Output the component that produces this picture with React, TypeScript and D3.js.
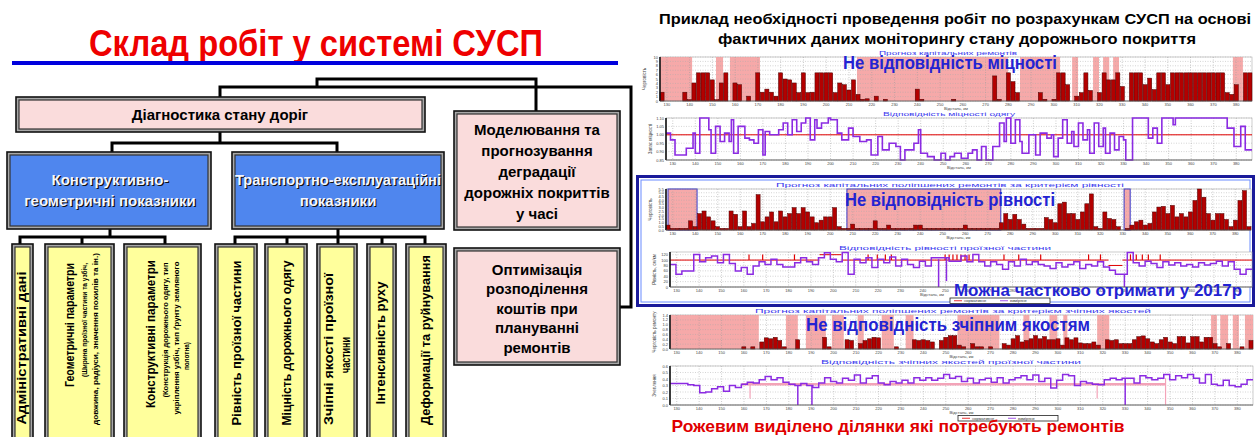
import React from "react";
import * as d3 from "d3";

const FONT = "'Liberation Sans', Arial, Helvetica, sans-serif";
const NARROW = "'Liberation Sans Narrow', 'Arial Narrow', 'Liberation Sans', Arial, sans-serif";

// km axis shared by all right-hand charts
const KM_DOMAIN: [number, number] = [127, 387];
const KM_TICKS = d3.range(130, 390, 10);

// --- strength (міцність), 2 km bins ---
const strengthBars = [
  2.0, 0, 0, 0, 0, 2.0, 0.3, 4.1, 6.4, 6.4,
  6.4, 4.8, 0.3, 4.1, 6.4, 0, 4.1, 3.7, 0, 1.1,
  0, 6.4, 2.0, 2.7, 2.0, 1.1, 6.4, 5.0, 4.8, 4.1,
  1.9, 6.4, 1.9, 2.0, 6.4, 6.4, 6.4, 6.4, 1.9, 4.1,
  3.7, 2.5, 4.8, 1.5, 0.4, 0.5, 0, 1.1, 0, 0.4,
  0, 0, 0, 0, 0, 0, 2.7, 0.4, 0, 0,
  0, 0, 0, 0, 0.4, 0, 0, 0, 0, 0,
  0, 0, 0, 5.7, 0.4, 0, 6.4, 4.4, 1.9, 0,
  0, 0, 0, 1.9, 0.4, 0, 0.4, 6.4, 6.4, 3.7,
  0, 1.1, 1.9, 6.4, 2.4, 0, 1.9, 6.4, 4.8, 4.8,
  6.4, 3.3, 0, 6.4, 6.4, 6.4, 3.7, 5.2, 2.6, 6.4,
  6.4, 3.7, 6.4, 6.4, 6.4, 6.4, 6.4, 6.4, 6.4, 6.4,
  6.4, 6.4, 6.4, 6.4, 1.9, 1.5, 3.7, 0, 6.4, 6.4,
];
const strengthPink: [number, number][] = [
  [127, 141.1], [151.6, 154.7], [157.7, 170.9], [213.5, 279.8], [285.1, 302.7],
  [308, 310.6], [317.2, 319.8], [321.6, 324.3], [326, 328.6], [378.6, 383],
];
const strengthLineKm = [
  127, 129, 131, 136, 139, 140, 142, 146, 147, 149,
  151, 153, 155, 156, 157, 159, 162, 164, 166, 168,
  170, 171, 173, 177, 179, 181, 183, 185, 187, 189,
  191, 193, 194, 196, 199, 200, 203, 205, 208, 210,
  213, 216, 218, 221, 223, 226, 229, 231, 233, 237,
  239, 240, 243, 246, 249, 251, 253, 255, 258, 261,
  263, 265, 267, 269, 272, 275, 277, 278, 280, 282,
  284, 285, 288, 291, 293, 296, 298, 299, 301, 303,
  305, 307, 308, 310, 312, 314, 315, 317, 319, 321,
  322, 324, 326, 328, 330, 331, 334, 341, 343, 345,
  347, 352, 353, 376, 379, 382, 384,
];
const strengthLineVal = [
  1.01, 0.97, 0.88, 0.92, 1.01, 0.89, 1.1, 1.03, 0.89, 1.05,
  0.96, 1.01, 0.96, 1.09, 0.89, 1.05, 0.98, 0.97, 0.95, 1.03,
  0.88, 1.02, 1.0, 1.03, 1.07, 1.0, 1.09, 1.02, 1.07, 1.1,
  0.97, 1.09, 1.04, 1.07, 1.1, 1.09, 1.01, 0.97, 1.04, 0.99,
  0.96, 0.97, 0.88, 0.99, 0.91, 0.95, 0.93, 0.85, 0.91, 0.95,
  1.03, 0.89, 0.87, 0.85, 0.89, 0.85, 0.87, 0.89, 0.86, 0.89,
  0.91, 0.85, 0.93, 0.85, 0.93, 1.07, 0.96, 1.1, 0.95, 1.09,
  0.96, 0.89, 1.0, 0.88, 1.01, 0.98, 1.0, 0.87, 0.98, 1.09,
  0.95, 1.02, 0.93, 1.07, 0.97, 1.03, 0.89, 1.07, 0.93, 1.04,
  0.89, 1.01, 0.91, 0.99, 0.97, 0.85, 1.1, 0.98, 1.04, 0.95,
  1.1, 1.06, 1.1, 1.04, 0.93, 1.05, 0.91,
];
const STRENGTH_NORM = 1.0;

// --- evenness (рівність) ---
const evenBars = [
  0.66, 0.22, 0.22, 0.22, 0.22, 1.23, 0.44, 2.2, 2.55, 1.76,
  1.23, 0.44, 0.22, 0.22, 2.55, 2.1, 0.44, 2.55, 0.44, 0.88,
  4.75, 1.1, 1.76, 2.42, 1.1, 2.55, 1.76, 2.2, 3.0, 2.2,
  3.0, 2.42, 1.76, 0.97, 1.32, 1.76, 1.76, 3.0, 0.44, 0.22,
  0.22, 0.79, 0.22, 0.22, 0.22, 0.22, 1.23, 0.22, 0.22, 0.66,
  0.22, 0.22, 0.22, 0.22, 0.22, 0.66, 0.66, 0.22, 0.22, 0.22,
  0.22, 0.22, 0.22, 0.22, 0.22, 0.22, 0.66, 0.22, 0.22, 0.22,
  0.22, 0.22, 0.22, 0.22, 0.97, 2.2, 1.41, 2.1, 1.41, 0.79,
  0.22, 0.22, 0.22, 0.22, 1.67, 1.41, 0.97, 3.52, 3.74, 2.2,
  2.2, 1.41, 2.42, 3.52, 4.84, 0.44, 0.22, 2.42, 1.54, 1.41,
  0.44, 0, 0.22, 0.66, 1.1, 1.32, 0.66, 0.88, 2.42, 3.08,
  3.17, 2.2, 3.3, 1.76, 2.2, 1.76, 2.42, 3.96, 5.5, 4.4,
  2.2, 1.32, 2.2, 2.2, 1.41, 0.44, 1.32, 3.96, 5.28, 0.44,
];
const evenPink: [number, number][] = [[127.9, 140.8], [207.4, 275.8], [330.6, 333.3]];
const evenLine = [
  84, 47, 59, 59, 121, 94, 109, 115, 90, 121,
  87, 59, 72, 47, 78, 94, 84, 103, 84, 74,
  74, 90, 109, 94, 84, 109, 127, 103, 94, 128,
  47, 103, 90, 109, 72, 103, 90, 111, 78, 103,
  84, 72, 96, 78, 109, 109, 109, 96, 96, 115,
  94, 121, 94, 78, 94, 84, 66, 94, 78, 103,
  84, 94, 84, 78, 69, 90, 74, 84, 94, 69,
  84, 78, 94, 74, 62, 47, 47, 128, 90, 78,
  96, 87, 72, 94, 82, 90, 78, 84, 74, 90,
  82, 87, 96, 78, 94, 66, 47, 66,
];
const evenDrops: [number, number, number][] = [[247, 103, 0], [250.5, 109, 22], [330, 47, 0]];
const evenNorm: [number, number, number][] = [
  [127, 193.8, 100], [193.8, 203.6, 120], [203.6, 322.9, 100], [322.9, 329.1, 80], [329.1, 387, 100],
];
const evenSpikes = [
  162.3, 168.4, 182.6, 215.5, 219.6, 223.2, 225.9, 249.9, 251.7, 253.4, 255.2, 257,
  258.8, 260.6, 276.2, 282.8, 292.6, 314, 319.3, 332.7, 335.3, 338, 340.7, 346,
];

// --- grip (зчіпні якості) ---
const gripBars = [
  0, 0, 0, 0, 0, 0, 0, 0, 0, 0,
  0, 0, 0, 0, 0, 0, 0.09, 0, 0.09, 0,
  0.29, 0.46, 0.42, 0.48, 0.35, 0.09, 0, 0, 0.38, 0,
  0, 0, 0, 0, 0.48, 0.09, 0, 0, 0, 0.38,
  0.35, 0, 0.22, 0.35, 0.42, 0.48, 0.46, 0, 0, 0,
  0.09, 0, 0, 0, 0.38, 0.35, 0.38, 0.35, 0.29, 0,
  0.35, 0.48, 0.55, 0.55, 0.16, 0.09, 0, 0.22, 0.09, 0.09,
  0, 0.09, 0, 0, 0.22, 0.16, 0.42, 0.55, 0.29, 0.35,
  0.42, 0.55, 0.42, 0.51, 0.38, 0.38, 0.42, 0.16, 0.46, 0.38,
  0.46, 0.25, 0.22, 0.22, 0.29, 0.16, 0, 0.38, 0.35, 0.38,
  0.22, 0.22, 0.22, 0.38, 0.51, 0.54, 0.42, 0.29, 0.22, 0.38,
  0.48, 0.29, 0.22, 0.51, 0.51, 0.25, 0.51, 0.51, 0.29, 0.48,
  0.48, 0.22, 0.09, 0, 0.22, 0, 0, 0.09, 0, 0.35,
];
const gripPink: [number, number][] = [
  [127.1, 166.6], [178.7, 184], [187.6, 196.5], [199.2, 204.5], [210.7, 213.4], [221.4, 226.8],
  [232.1, 235.6], [255.2, 273.9], [284.6, 287.3], [296.2, 299.7], [302.4, 304.2], [317.5, 322.9],
  [368.3, 370.9], [372.4, 375.9], [378, 380.7], [383.4, 387],
];
const gripLine = [
  0.33, 0.33, 0.33, 0.31, 0.3, 0.19, 0.2, 0.25, 0.28, 0.21,
  0.3, 0.27, 0.32, 0.35, 0.34, 0.39, 0.44, 0.39, 0.42, 0.35,
  0.32, 0.3, 0.33, 0.3, 0.27, 0.34, 0.42, 0.36, 0.34, 0.41,
  0.38, 0.46, 0.34, 0.41, 0.45, 0.34, 0.31, 0.36, 0.34, 0.38,
  0.34, 0.42, 0.38, 0.42, 0.38, 0.41, 0.47, 0.41, 0.44, 0.36,
  0.41, 0.34, 0.39, 0.41, 0.35, 0.42, 0.34, 0.39, 0.42, 0.45,
  0.39, 0.46, 0.36, 0.41, 0.26, 0.38, 0.47, 0.45, 0.3, 0.36,
  0.34, 0.32, 0.31, 0.39, 0.41, 0.39, 0.41, 0.41, 0.34, 0.45,
  0.42, 0.39, 0.41, 0.47, 0.39, 0.45, 0.42, 0.47, 0.41, 0.34,
  0.47, 0.32, 0.3, 0.38, 0.3, 0.28, 0.32, 0.39,
];
const gripDrops: [number, number, number][] = [[184, 0.3, 0], [190.3, 0.3, 0], [330, 0.41, 0]];
const gripNormDrops: [number, number, number][] = [[162.7, 0.35, 0.1], [317.5, 0.32, 0.1], [348, 0.41, 0]];
const GRIP_NORM: [number, number, number] = [159, 348, 0.32];

// --- left-hand diagram texts ---
const yellowBoxes = [
  [12, 33], [45, 114], [124, 201], [215, 257], [265, 307], [317, 357], [367, 396], [406, 446],
];
const verticalTexts: { x: number; cy: number; t: string; size: number; len: number }[] = [
  { x: 22, cy: 348, t: "Адміністративні  дані", size: 12.5, len: 153 },
  { x: 70, cy: 325, t: "Геометричні  параметри", size: 12.5, len: 124 },
  { x: 84, cy: 320, t: "(Ширина проїзної частини та узбіч,", size: 6.5, len: 114 },
  { x: 95, cy: 339, t: "довжина, радіуси,     значення похилів та ін.)", size: 6.5, len: 172 },
  { x: 151, cy: 334, t: "Конструктивні  параметри", size: 12.5, len: 148 },
  { x: 165, cy: 330, t: "(Конструкція дорожнього одягу, тип", size: 6.5, len: 135 },
  { x: 176, cy: 338, t: "укріплення узбіч, тип ґрунту земляного", size: 6.5, len: 153 },
  { x: 186, cy: 356, t: "полотна)", size: 6.5, len: 28 },
  { x: 237, cy: 343, t: "Рівність  проїзної частини", size: 12.5, len: 165 },
  { x: 287, cy: 343, t: "Міцність дорожнього одягу", size: 12.5, len: 165 },
  { x: 329, cy: 349, t: "Зчіпні якості проїзної", size: 12.5, len: 152 },
  { x: 346, cy: 355, t: "частини", size: 12.5, len: 36 },
  { x: 381, cy: 343, t: "Інтенсивність  руху", size: 12.5, len: 123 },
  { x: 426, cy: 340, t: "Деформації  та руйнування", size: 12.5, len: 170 },
];
const modelLines = ["Моделювання та", "прогнозування", "деградації", "дорожніх покриттів", "у часі"];
const optimLines = ["Оптимізація", "розподілення", "коштів при", "плануванні", "ремонтів"];

type Scale = d3.ScaleLinear<number, number>;
type BoxT = { x0: number; x1: number; y0: number; y1: number };

function Panel({
  box, yDomain, yTicks, yFmt, title, titleX, titleLen, yTitle, xTitle = "Відстань, км", xTitleX, under, over,
}: {
  box: BoxT; yDomain: [number, number]; yTicks: number[]; yFmt: (v: number) => string;
  title: string; titleX: number; titleLen: number; yTitle: string; xTitle?: string; xTitleX?: number;
  under?: (x: Scale, y: Scale) => React.ReactNode; over: (x: Scale, y: Scale) => React.ReactNode;
}) {
  const x = d3.scaleLinear().domain(KM_DOMAIN).range([box.x0, box.x1]);
  const y = d3.scaleLinear().domain(yDomain).range([box.y1, box.y0]);
  return (
    <g fontFamily={FONT}>
      <text x={titleX} y={box.y0 - 2} textAnchor="middle" fontSize={6} fill="#3a3aee"
        textLength={titleLen} lengthAdjust="spacingAndGlyphs">{title}</text>
      <rect x={box.x0} y={box.y0} width={box.x1 - box.x0} height={box.y1 - box.y0} fill="#fff" stroke="#aaa" strokeWidth={0.6} />
      {under && under(x, y)}
      {KM_TICKS.map((t) => (
        <line key={"gx" + t} x1={x(t)} x2={x(t)} y1={box.y0} y2={box.y1} stroke="#999" strokeWidth={0.5} strokeDasharray="1 1.5" />
      ))}
      {yTicks.map((t) => (
        <line key={"gy" + t} x1={box.x0} x2={box.x1} y1={y(t)} y2={y(t)} stroke="#aaa" strokeWidth={0.5} strokeDasharray="1 1.5" />
      ))}
      {over(x, y)}
      <line x1={box.x0} x2={box.x0} y1={box.y0} y2={box.y1} stroke="#111" strokeWidth={1.6} />
      <line x1={box.x0} x2={box.x1} y1={box.y1} y2={box.y1} stroke="#555" strokeWidth={0.8} />
      {yTicks.map((t) => (
        <text key={"ty" + t} x={box.x0 - 2} y={y(t) + 1.5} textAnchor="end" fontSize={4} fill="#444">{yFmt(t)}</text>
      ))}
      {KM_TICKS.map((t) => (
        <text key={"tx" + t} x={x(t)} y={box.y1 + 4.5} textAnchor="middle" fontSize={4} fill="#444">{t}</text>
      ))}
      <text x={xTitleX ?? (box.x0 + box.x1) / 2} y={box.y1 + 8.5} textAnchor="middle" fontSize={4.2} fill="#444">{xTitle}</text>
      <text transform={`translate(${box.x0 - 14},${(box.y0 + box.y1) / 2}) rotate(-90)`} textAnchor="middle" fontSize={4.5} fill="#444">{yTitle}</text>
    </g>
  );
}

function Bars({ x, y, values }: { x: Scale; y: Scale; values: number[] }) {
  const band = d3.scaleBand<number>().domain(d3.range(values.length)).range(x.range() as [number, number]).paddingInner(0.1);
  return (
    <g>
      {values.map((v, i) =>
        v > 0 ? (
          <rect key={i} x={band(i)} y={y(v)} width={band.bandwidth()} height={y(0) - y(v)}
            fill="#b30000" stroke="#4a0000" strokeWidth={0.5} />
        ) : null
      )}
    </g>
  );
}

function PinkZones({ x, y, zones, stroke }: { x: Scale; y: Scale; zones: [number, number][]; stroke?: string }) {
  const [lo, hi] = y.domain();
  return (
    <g>
      {zones.map(([a, b], i) => (
        <rect key={i} x={x(a)} y={y(hi)} width={x(b) - x(a)} height={y(lo) - y(hi)} fill="#f6a9a9"
          stroke={stroke || "none"} strokeWidth={1} />
      ))}
    </g>
  );
}

function sampleLine(x: Scale, y: Scale, vals: number[]) {
  const idx = d3.scaleLinear().domain([0, vals.length]).range(x.range());
  const pts: [number, number][] = vals.map((v, i) => [idx(i), y(v)]);
  pts.push([idx(vals.length), y(vals[vals.length - 1])]);
  return d3.line().curve(d3.curveStepAfter)(pts) || "";
}

function Legend({ x, y }: { x: number; y: number }) {
  return (
    <g fontFamily={FONT}>
      <rect x={x} y={y} width={100} height={5.5} fill="#fff" stroke="#222" strokeWidth={0.8} />
      <line x1={x + 4} x2={x + 12} y1={y + 2.75} y2={y + 2.75} stroke="#e00000" strokeWidth={0.8} />
      <text x={x + 14} y={y + 4.3} fontSize={4} fill="#333">нормативне</text>
      <line x1={x + 50} x2={x + 58} y1={y + 2.75} y2={y + 2.75} stroke="#8b2be2" strokeWidth={0.8} />
      <text x={x + 60} y={y + 4.3} fontSize={4} fill="#333">виміряне</text>
    </g>
  );
}

function DBox({ x, y, w, h, fill }: { x: number; y: number; w: number; h: number; fill: string }) {
  return (
    <g>
      <rect x={x} y={y} width={w} height={h} fill="#a8a8a8" stroke="#111" strokeWidth={1.6} />
      <rect x={x + 3} y={y + 3} width={w - 6} height={h - 6} fill={fill} stroke="#333" strokeWidth={1.2} />
    </g>
  );
}

function ShadowText({ x, y, children, len }: { x: number; y: number; children: string; len?: number }) {
  const common = { textAnchor: "middle" as const, fontSize: 15, fontWeight: "bold" as const, fontFamily: FONT };
  const extra = len ? { textLength: len, lengthAdjust: "spacingAndGlyphs" as const } : {};
  return (
    <g>
      <text x={x + 1.2} y={y + 1.2} fill="#111" {...common} {...extra}>{children}</text>
      <text x={x} y={y} fill="#f4f6ff" {...common} {...extra}>{children}</text>
    </g>
  );
}

export default function App() {
  const wire = { fill: "none", stroke: "#000", strokeWidth: 3 };
  const c1: BoxT = { x0: 660, x1: 1252, y0: 57, y1: 101 };
  const c2: BoxT = { x0: 666, x1: 1252, y0: 118, y1: 160 };
  const c3: BoxT = { x0: 666, x1: 1251, y0: 189, y1: 230 };
  const c4: BoxT = { x0: 670, x1: 1252, y0: 252, y1: 287 };
  const c5: BoxT = { x0: 670, x1: 1253, y0: 315, y1: 349 };
  const c6: BoxT = { x0: 670, x1: 1253, y0: 366, y1: 405 };
  const blue = "#2323d2";

  return (
    <div style={{ position: "fixed", left: 0, top: 0 }}>
      <svg width={1255} height={437} style={{ display: "block", background: "#fff" }}>
        {/* left title */}
        <text x={316} y={56} textAnchor="middle" fontSize={36} fontWeight="bold" fill="#ee0000" fontFamily={NARROW}
          textLength={454} lengthAdjust="spacingAndGlyphs">Склад робіт у системі СУСП</text>
        <rect x={12} y={61} width={606} height={4} fill="#0000dd" />

        {/* connectors */}
        <path d="M220,97 V87 H631 V307 H620" {...wire} />
        <path d="M317,87 V79 H536 V111" {...wire} />
        <path d="M220,132 V143 M112,152 V143 H337 V152" {...wire} />
        <path d="M110,229 V237 M20,244 V237 H165 V244 M82,237 V244" {...wire} />
        <path d="M338,229 V237 M235,244 V237 H425 V244 M287,237 V244 M338,237 V244 M382,237 V244" {...wire} />

        {/* boxes */}
        <DBox x={16} y={97} w={409} h={35} fill="#fadcdc" />
        <text x={220} y={120} textAnchor="middle" fontSize={15} fontWeight="bold" fontFamily={FONT}>Діагностика стану доріг</text>

        <DBox x={7} y={152} w={204} h={77} fill="#4f86ee" />
        <DBox x={232} y={152} w={212} h={77} fill="#4f86ee" />
        <ShadowText x={110} y={185}>Конструктивно-</ShadowText>
        <ShadowText x={110} y={206}>геометричні показники</ShadowText>
        <ShadowText x={338} y={185} len={206}>Транспортно-експлуатаційні</ShadowText>
        <ShadowText x={338} y={206}>показники</ShadowText>

        {yellowBoxes.map(([a, b], i) => (
          <DBox key={i} x={a} y={244} w={b - a} h={210} fill="#ffff9c" />
        ))}
        {verticalTexts.map((d, i) => (
          <text key={i} transform={`translate(${d.x},${d.cy}) rotate(-90)`} textAnchor="middle" dominantBaseline="central"
            fontSize={d.size} fontWeight="bold" fontFamily={FONT} textLength={d.len} lengthAdjust="spacingAndGlyphs">{d.t}</text>
        ))}

        <DBox x={454} y={111} w={166} h={119} fill="#fadcdc" />
        {modelLines.map((t, i) => (
          <text key={t} x={537} y={129 + i * 21} textAnchor="middle" dominantBaseline="central" fontSize={15}
            fontWeight="bold" fontFamily={FONT}>{t}</text>
        ))}
        <DBox x={454} y={248} w={166} h={117} fill="#fadcdc" />
        {optimLines.map((t, i) => (
          <text key={t} x={537} y={269 + i * 19.5} textAnchor="middle" dominantBaseline="central" fontSize={15}
            fontWeight="bold" fontFamily={FONT}>{t}</text>
        ))}

        {/* right title */}
        <text x={955} y={24} textAnchor="middle" fontSize={15.5} fontWeight="bold" fontFamily={FONT}
          textLength={592} lengthAdjust="spacingAndGlyphs">Приклад необхідності проведення робіт по розрахункам СУСП на основі</text>
        <text x={957} y={44} textAnchor="middle" fontSize={15.5} fontWeight="bold" fontFamily={FONT}
          textLength={478} lengthAdjust="spacingAndGlyphs">фактичних даних моніторингу стану дорожнього покриття</text>

        {/* chart 1 */}
        <Panel box={c1} yDomain={[0, 10]} yTicks={d3.range(0, 11, 1)} yFmt={(v) => v.toFixed(0)}
          title="Прогноз капітальних ремонтів" titleX={948} titleLen={138} yTitle="Черговість"
          under={(x, y) => <PinkZones x={x} y={y} zones={strengthPink} />}
          over={(x, y) => <Bars x={x} y={y} values={strengthBars} />} />

        {/* chart 2 */}
        <Panel box={c2} yDomain={[0.85, 1.1]} yTicks={[0.85, 0.9, 0.95, 1, 1.05, 1.1]} yFmt={(v) => v.toFixed(2)}
          title="Відповідність міцності одягу" titleX={949} titleLen={132} yTitle="Запас міцності"
          over={(x, y) => {
            const pts: [number, number][] = strengthLineKm.map((k, i) => [x(k), y(strengthLineVal[i])]);
            pts.push([x(KM_DOMAIN[1]), y(strengthLineVal[strengthLineVal.length - 1])]);
            return (
              <g>
                <line x1={x(KM_DOMAIN[0])} x2={x(KM_DOMAIN[1])} y1={y(STRENGTH_NORM)} y2={y(STRENGTH_NORM)} stroke="#e00000" strokeWidth={1} />
                <path d={d3.line().curve(d3.curveStepAfter)(pts) || ""} fill="none" stroke="#8b2be2" strokeWidth={1.6} />
              </g>
            );
          }} />

        {/* blue frame */}
        <rect x={637.5} y={176.5} width={616} height={129} fill="#fff" stroke="#1a1a9a" strokeWidth={3} />
        <rect x={641} y={180} width={609} height={122} fill="none" stroke="#6b8cff" strokeWidth={1} />

        {/* chart 3 */}
        <Panel box={c3} yDomain={[0, 5.5]} yTicks={d3.range(0, 5.6, 0.5)} yFmt={(v) => v.toFixed(1)}
          title="Прогноз капітальних поліпшених ремонтів за критерієм рівності" titleX={950} titleLen={348} yTitle="Черговість"
          under={(x, y) => <PinkZones x={x} y={y} zones={evenPink} stroke="#3434c8" />}
          over={(x, y) => <Bars x={x} y={y} values={evenBars} />} />

        {/* chart 4 */}
        <Panel box={c4} yDomain={[0, 130]} yTicks={d3.range(0, 121, 20)} yFmt={(v) => v.toFixed(0)}
          title="Відповідність рівності проїзної частини" titleX={945} titleLen={212} yTitle="Рівність, см/км" xTitleX={932}
          over={(x, y) => (
            <g>
              {evenNorm.map(([a, b, v], i) => (
                <line key={"n" + i} x1={x(a)} x2={x(b)} y1={y(v)} y2={y(v)} stroke="#e00000" strokeWidth={1} />
              ))}
              {evenSpikes.map((k, i) => (
                <line key={"s" + i} x1={x(k)} x2={x(k)} y1={y(100)} y2={y(121)} stroke="#e00000" strokeWidth={1.2} />
              ))}
              <path d={sampleLine(x, y, evenLine)} fill="none" stroke="#8b2be2" strokeWidth={1.5} />
              {evenDrops.map(([k, a, b], i) => (
                <line key={"d" + i} x1={x(k)} x2={x(k)} y1={y(a)} y2={y(b)} stroke="#8b2be2" strokeWidth={1.5} />
              ))}
            </g>
          )} />
        <Legend x={950} y={298} />

        {/* chart 5 */}
        <Panel box={c5} yDomain={[0, 1.4]} yTicks={d3.range(0, 1.41, 0.2)} yFmt={(v) => v.toFixed(1)}
          title="Прогноз капітальних поліпшених ремонтів за критерієм зчіпних якостей" titleX={953} titleLen={396} yTitle="Черговість ремонту"
          under={(x, y) => <PinkZones x={x} y={y} zones={gripPink} />}
          over={(x, y) => <Bars x={x} y={y} values={gripBars} />} />

        {/* chart 6 */}
        <Panel box={c6} yDomain={[0, 0.6]} yTicks={d3.range(0, 0.61, 0.1)} yFmt={(v) => v.toFixed(1)}
          title="Відповідність зчіпних якостей проїзної частини" titleX={951} titleLen={260} yTitle="Зчеплення"
          over={(x, y) => (
            <g>
              <line x1={x(GRIP_NORM[0])} x2={x(GRIP_NORM[1])} y1={y(GRIP_NORM[2])} y2={y(GRIP_NORM[2])} stroke="#f3a3b8" strokeWidth={2.5} />
              {gripNormDrops.map(([k, a, b], i) => (
                <line key={"p" + i} x1={x(k)} x2={x(k)} y1={y(a)} y2={y(b)} stroke="#f3a3b8" strokeWidth={1.2} />
              ))}
              <path d={sampleLine(x, y, gripLine)} fill="none" stroke="#8b2be2" strokeWidth={1.5} />
              {gripDrops.map(([k, a, b], i) => (
                <line key={"d" + i} x1={x(k)} x2={x(k)} y1={y(a)} y2={y(b)} stroke="#8b2be2" strokeWidth={1.5} />
              ))}
            </g>
          )} />
        <Legend x={958} y={415.5} />

        {/* overlay labels */}
        <g fontFamily={FONT} fontWeight="bold" fill={blue}>
          <text x={950} y={69} textAnchor="middle" fontSize={18} textLength={214} lengthAdjust="spacingAndGlyphs">Не відповідність міцності</text>
          <text x={950} y={206} textAnchor="middle" fontSize={18} textLength={210} lengthAdjust="spacingAndGlyphs">Не відповідність рівності</text>
          <text x={1098} y={296} textAnchor="middle" fontSize={16.5} textLength={288} lengthAdjust="spacingAndGlyphs">Можна частково отримати у 2017р</text>
          <text x={948} y={331} textAnchor="middle" fontSize={18} textLength={284} lengthAdjust="spacingAndGlyphs">Не відповідність зчіпним якостям</text>
        </g>
        <text x={898} y={432} textAnchor="middle" fontSize={16.5} fontWeight="bold" fontFamily={FONT} fill="#e00000"
          textLength={453} lengthAdjust="spacingAndGlyphs">Рожевим виділено ділянки які потребують ремонтів</text>
      </svg>
    </div>
  );
}
